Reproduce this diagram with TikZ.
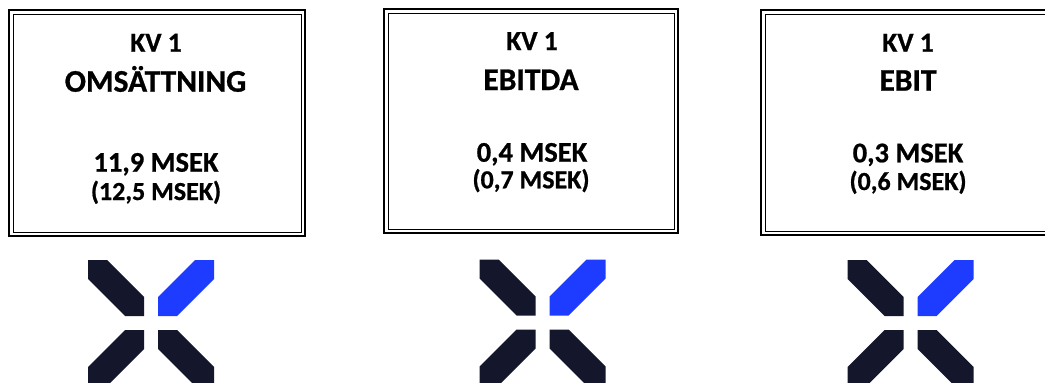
\documentclass[tikz,border=0pt]{standalone}
\usepackage{fontspec}
\setmainfont{Carlito}[BoldFeatures={FakeBold=0.8}]
\definecolor{navy}{HTML}{14162B}
\definecolor{xblue}{HTML}{1E3CFF}
\tikzset{
  x=1pt, y=-1pt,
  outerline/.style={draw=black, line width=1.6pt},
  innerline/.style={draw=black, line width=0.9pt},
  kvtxt/.style={anchor=base, inner sep=0pt, font=\fontsize{27.5}{32}\selectfont\bfseries},
  titletxt/.style={anchor=base, inner sep=0pt, font=\fontsize{31.5}{36}\selectfont\bfseries},
  valtxt/.style={anchor=base, inner sep=0pt, font=\fontsize{28.5}{33}\selectfont\bfseries},
  prevtxt/.style={anchor=base, inner sep=0pt, font=\fontsize{26}{30}\selectfont\bfseries},
  xlogo/.pic={
    \fill[navy] (-63,-63) -- (-44,-63) -- (-7,-26) -- (-7,-7) -- (-26,-7) -- (-63,-44) -- cycle;
    \fill[xblue] (63,-63) -- (44,-63) -- (7,-26) -- (7,-7) -- (26,-7) -- (63,-44) -- cycle;
    \fill[navy] (-63,63) -- (-44,63) -- (-7,26) -- (-7,7) -- (-26,7) -- (-63,44) -- cycle;
    \fill[navy] (63,63) -- (44,63) -- (7,26) -- (7,7) -- (26,7) -- (63,44) -- cycle;
  }
}
\begin{document}
\begin{tikzpicture}
\useasboundingbox (0,0) rectangle (1045,383);
\clip (0,0) rectangle (1045,383);
\fill[white] (0,0) rectangle (1045,383);
% boxes
\draw[outerline] (9,10) rectangle (305,236);
\draw[innerline] (13,14) rectangle (301,232);
\draw[outerline] (384,9) rectangle (678,233);
\draw[innerline] (388,13) rectangle (674,229);
\draw[outerline] (761,10) rectangle (1055,235);
\draw[innerline] (765,14) rectangle (1051,231);
% box 1
\node[kvtxt] (k1) at (156,51.7) {KV 1};
\node[titletxt] (t1) at (155.5,91.7) {OMSÄTTNING};
\node[valtxt] (v1) at (156,171.7) {11,9 MSEK};
\node[prevtxt] (p1) at (156,200) {(12,5 MSEK)};
% box 2
\node[kvtxt] (k2) at (532,50) {KV 1};
\node[titletxt] (t2) at (531,90) {EBITDA};
\node[valtxt] (v2) at (532,161.7) {0,4 MSEK};
\node[prevtxt] (p2) at (531,188.3) {(0,7 MSEK)};
% box 3
\node[kvtxt] (k3) at (908,51.7) {KV 1};
\node[titletxt] (t3) at (908,90.7) {EBIT};
\node[valtxt] (v3) at (908,162.3) {0,3 MSEK};
\node[prevtxt] (p3) at (908,190) {(0,6 MSEK)};
% logos
\pic at (151.2,323) {xlogo};
\pic at (542.7,322.5) {xlogo};
\pic at (910.7,323) {xlogo};
\end{tikzpicture}
\end{document}
